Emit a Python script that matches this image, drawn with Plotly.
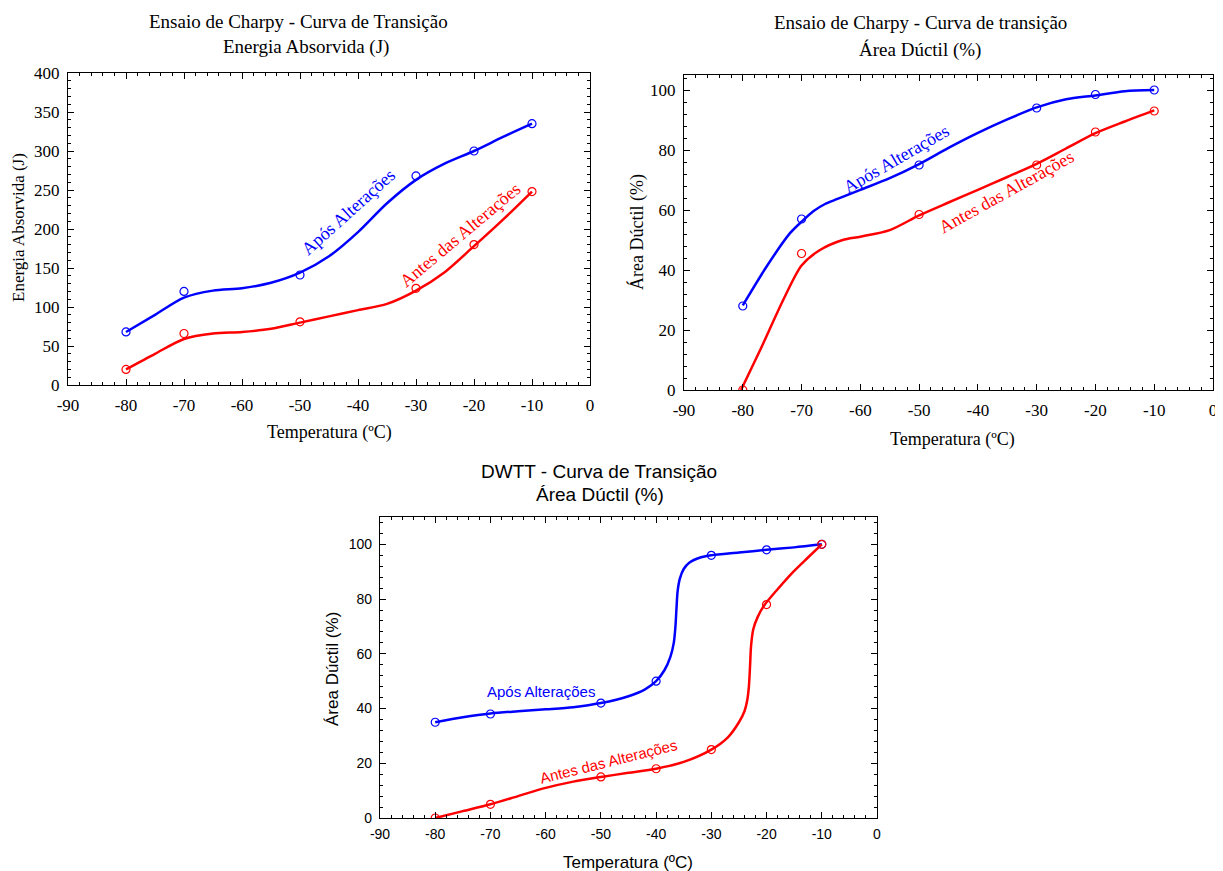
import plotly.graph_objects as go

W, H = 1223, 871
OFF = 8  # page body margin in the browser

# ---------------- data ----------------
temp_pts = [-80, -70, -50, -30, -20, -10]
charpy_energy_apos = [68, 120, 141, 268, 300, 335]
charpy_energy_antes = [20, 66, 81, 124, 180, 248]

# fitted curves
fit1_x = [-80, -75, -70, -65, -60, -55, -50, -45, -40, -35, -30, -25, -20, -15, -10]
fit1_apos = [68, 90, 112, 121, 124, 131, 144, 165, 196, 233, 263, 284, 300, 318, 335]
fit1_antes = [20, 40, 59, 66, 68, 72, 80, 88, 96, 104, 121, 145, 178, 212, 248]

charpy_duct_apos = [28, 57, 75, 94, 98.5, 100]
charpy_duct_antes = [0, 45.5, 58.5, 75, 86, 93]
fit2_x_apos = [-80, -76, -72, -70, -68, -66, -64, -60, -55, -50, -45, -40, -35, -30, -25, -20, -15, -10]
fit2_apos = [28.2, 41, 52.2, 56.1, 59.6, 62, 63.6, 66.7, 70.6, 75.3, 80.7, 85.7, 90.2, 94.2, 96.9, 98.2, 99.6, 100]
fit2_x_antes = [-80.3, -77, -73, -70, -67, -63, -60, -55, -50, -45, -40, -35, -30, -25, -20, -15, -10]
fit2_antes = [0, 13.5, 30.5, 41.5, 46.5, 50, 51.1, 53.3, 58.2, 62.5, 66.7, 71, 75.4, 80.5, 85.6, 89.5, 93.2]

dwtt_x = [-80, -70, -50, -40, -30, -20, -10]
dwtt_apos = [35, 38, 42, 50, 96, 98, 100]
dwtt_antes = [0, 5, 15, 18, 25, 78, 100]
fit3_x_apos = [-80, -75, -70, -65, -60, -55, -50, -45, -42, -40, -38.5, -37.4, -36.8, -36.5, -36.3, -36.1, -35.7, -35, -34, -32, -30, -25, -20, -15, -10]
fit3_apos = [35, 36.8, 38.2, 39, 39.7, 40.5, 42, 44.5, 47, 50, 54, 59, 64, 70, 77, 83, 87.5, 91, 93.3, 95.2, 96, 97, 98, 98.9, 100]
fit3_x_antes = [-80, -75, -70, -65, -60, -55, -50, -45, -40, -35, -30, -27, -25, -24, -23.5, -23.2, -23.0, -22.8, -22.4, -21.6, -20.5, -18, -15.3, -12.5, -10]
fit3_antes = [0, 2.5, 5, 8, 11, 13.3, 15, 16.5, 18, 20.5, 25, 29.5, 35, 39, 43, 48, 55, 63, 69, 73.5, 77.5, 83.6, 89.7, 95.2, 100]

x_ticks = [-90, -80, -70, -60, -50, -40, -30, -20, -10, 0]
x_tick_text = ["-90", "-80", "-70", "-60", "-50", "-40", "-30", "-20", "-10", "0"]
y1_ticks = [0, 50, 100, 150, 200, 250, 300, 350, 400]
y2_ticks = [0, 20, 40, 60, 80, 100]

BLUE = "#0000FF"
RED = "#FF0000"
SERIF = "Liberation Serif"
SANS = "Liberation Sans"


def px(x, y):
    return (x - OFF) / W, 1 - (y - OFF) / H


def dom(x0, x1, ytop, ybot):
    return [(x0 - OFF) / W, (x1 - OFF) / W], [1 - (ybot - OFF) / H, 1 - (ytop - OFF) / H]


fig = go.Figure()

panels = [
    ("", fit1_x, fit1_apos, fit1_x, fit1_antes, temp_pts, charpy_energy_apos, charpy_energy_antes),
    ("2", fit2_x_apos, fit2_apos, fit2_x_antes, fit2_antes, temp_pts, charpy_duct_apos, charpy_duct_antes),
    ("3", fit3_x_apos, fit3_apos, fit3_x_antes, fit3_antes, dwtt_x, dwtt_apos, dwtt_antes),
]

for suf, fxa, fya, fxb, fyb, ptx, pya, pyb in panels:
    xa, ya = "x" + suf, "y" + suf
    for fx, fy, col in [(fxa, fya, BLUE), (fxb, fyb, RED)]:
        fig.add_trace(go.Scatter(x=fx, y=fy, mode="lines", xaxis=xa, yaxis=ya,
                                 line=dict(color=col, width=2.5, shape="spline", smoothing=0.8),
                                 showlegend=False, hoverinfo="skip"))
    for py, col in [(pya, BLUE), (pyb, RED)]:
        fig.add_trace(go.Scatter(x=ptx, y=py, mode="markers", xaxis=xa, yaxis=ya,
                                 marker=dict(symbol="circle-open", size=8, color=col, line=dict(width=1.2)),
                                 showlegend=False))

common_axis = dict(showline=True, linecolor="black", linewidth=1.2, mirror="ticks",
                   ticks="inside", ticklen=6, tickwidth=1.2, tickcolor="black",
                   showgrid=False, zeroline=False)

d1x, d1y = dom(68, 590, 73, 385)
d2x, d2y = dom(684, 1213, 75, 390)
d3x, d3y = dom(380, 877, 517, 818)

serif_tick = dict(family=SERIF, size=17, color="black")
sans_tick = dict(family=SANS, size=14, color="black")


def xax(d, anchor, font, standoff):
    return dict(domain=d, anchor=anchor, range=[-90, 0], tickvals=x_ticks, ticktext=x_tick_text,
                tickfont=font, ticklabelstandoff=standoff,
                minor=dict(dtick=2, tick0=0, ticks="inside", ticklen=3, tickcolor="black"), **common_axis)


def yax(d, anchor, rng, tv, mdt, font, standoff):
    return dict(domain=d, anchor=anchor, range=rng, tickvals=tv, tickfont=font,
                ticklabelstandoff=standoff,
                minor=dict(dtick=mdt, tick0=0, ticks="inside", ticklen=3, tickcolor="black"), **common_axis)


fig.update_layout(
    width=W, height=H, margin=dict(l=0, r=0, t=0, b=0, autoexpand=False),
    paper_bgcolor="white", plot_bgcolor="white",
    xaxis=xax(d1x, "y", serif_tick, 4),
    yaxis=yax(d1y, "x", [0, 400], y1_ticks, 10, serif_tick, 4),
    xaxis2=xax(d2x, "y2", serif_tick, 4),
    yaxis2=yax(d2y, "x2", [0, 105], y2_ticks, 4, serif_tick, 4),
    xaxis3=xax(d3x, "y3", sans_tick, 3),
    yaxis3=yax(d3y, "x3", [0, 110], y2_ticks, 4, sans_tick, 4),
)

ann = []


def text_px(x, y, t, font, angle=0):
    ax, ay = px(x, y)
    ann.append(dict(x=ax, y=ay, xref="paper", yref="paper", text=t, showarrow=False,
                    font=font, textangle=angle, xanchor="center", yanchor="middle"))


tf_serif = dict(family=SERIF, size=19, color="black")
tf_sans = dict(family=SANS, size=19, color="black")
lab_serif = dict(family=SERIF, size=18, color="black")
lab_sans = dict(family=SANS, size=17, color="black")
ylab1 = dict(family=SERIF, size=17, color="black")

# titles
text_px(298, 21, "Ensaio de Charpy - Curva de Transição", tf_serif)
text_px(306, 47, "Energia Absorvida (J)", tf_serif)
text_px(920, 23, "Ensaio de Charpy - Curva de transição", tf_serif)
text_px(920, 50, "Área Dúctil (%)", tf_serif)
text_px(599, 471, "DWTT - Curva de Transição", tf_sans)
text_px(600, 494, "Área Dúctil (%)", tf_sans)

# axis titles
text_px(329, 432, "Temperatura (ºC)", lab_serif)
text_px(19, 228, "Energia Absorvida (J)", ylab1, -90)
text_px(952, 439, "Temperatura (ºC)", lab_serif)
text_px(637, 232, "Área Dúctil (%)", lab_serif, -90)
text_px(628, 862, "Temperatura (ºC)", lab_sans)
text_px(332, 669, "Área Dúctil (%)", lab_sans, -90)

# curve labels (data coords)
curve_labels = [
    ("", -41.7, 222, "Após Alterações", BLUE, -42, SERIF, 18),
    ("", -22.4, 192, "Antes das Alterações", RED, -40, SERIF, 18),
    ("2", -53.9, 77, "Após Alterações", BLUE, -30, SERIF, 18),
    ("2", -35.2, 66, "Antes das Alterações", RED, -29, SERIF, 18),
    ("3", -60.8, 46.2, "Após Alterações", BLUE, 0, SANS, 15),
    ("3", -48.7, 20.8, "Antes das Alterações", RED, -14, SANS, 15),
]
for suf, x, y, t, col, ang, fam, sz in curve_labels:
    ann.append(dict(x=x, y=y, xref="x" + suf, yref="y" + suf, text=t, showarrow=False,
                    font=dict(family=fam, size=sz, color=col), textangle=ang,
                    xanchor="center", yanchor="middle"))

fig.update_layout(annotations=ann)

fig.write_html("out.html")
